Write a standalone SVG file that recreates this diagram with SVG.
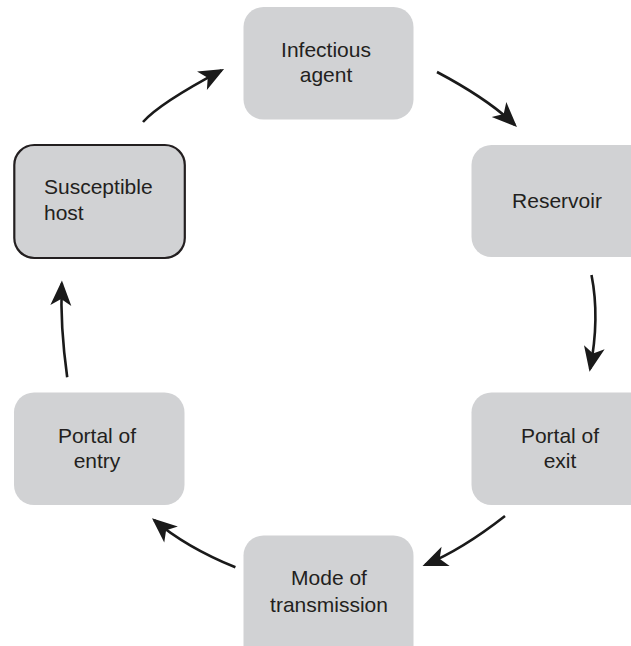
<svg xmlns="http://www.w3.org/2000/svg" width="631" height="646" viewBox="0 0 631 646">
  <style>
    .box { fill: #d1d2d4; }
    .host { fill: #d1d2d4; stroke: #231f20; stroke-width: 2.2; }
    .lbl { font-family: "Liberation Sans", Arial, sans-serif; font-size: 21px; fill: #231f20; }
    .mid { text-anchor: middle; }
    .conn { fill: none; stroke: #1a1a1a; stroke-width: 2.6; }
  </style>
  <defs>
    <marker id="ah" markerUnits="userSpaceOnUse" markerWidth="40" markerHeight="40" viewBox="-30 -15 40 30" refX="0" refY="0" orient="auto" overflow="visible">
      <path d="M3,0 L-22,-10.5 L-15.5,0 L-22,10.5 Z" fill="#1a1a1a"/>
    </marker>
  </defs>
  <rect width="631" height="646" fill="#ffffff"/>

  <g id="infectious-agent">
    <rect class="box" x="243.5" y="7" width="170" height="112.5" rx="20"/>
    <text class="lbl mid" x="326" y="57">Infectious</text>
    <text class="lbl mid" x="326" y="82">agent</text>
  </g>
  <g id="reservoir">
    <rect class="box" x="471.5" y="145" width="180" height="112" rx="20"/>
    <text class="lbl mid" x="557" y="208">Reservoir</text>
  </g>
  <g id="portal-of-exit">
    <rect class="box" x="471.5" y="392.5" width="180" height="112.5" rx="20"/>
    <text class="lbl mid" x="560" y="443">Portal of</text>
    <text class="lbl mid" x="560" y="468">exit</text>
  </g>
  <g id="mode-of-transmission">
    <rect class="box" x="243.5" y="535.5" width="170" height="130" rx="20"/>
    <text class="lbl mid" x="329" y="585">Mode of</text>
    <text class="lbl mid" x="329" y="611.5">transmission</text>
  </g>
  <g id="portal-of-entry">
    <rect class="box" x="14" y="392.5" width="170.5" height="112.5" rx="20"/>
    <text class="lbl mid" x="97" y="443">Portal of</text>
    <text class="lbl mid" x="97" y="468">entry</text>
  </g>
  <g id="susceptible-host">
    <rect class="host" x="14.3" y="145" width="170.5" height="113" rx="20"/>
    <text class="lbl" x="44" y="194">Susceptible</text>
    <text class="lbl" x="44" y="220">host</text>
  </g>

  <g id="connectors">
    <path class="conn" d="M143,122 Q160,103 221.4,70.4" marker-end="url(#ah)"/>
    <path class="conn" d="M437,72 Q488.3,99.2 514.8,124.9" marker-end="url(#ah)"/>
    <path class="conn" d="M591.5,275 Q600,318 590.1,368.8" marker-end="url(#ah)"/>
    <path class="conn" d="M505,516 Q462.5,549.3 425.3,564.8" marker-end="url(#ah)"/>
    <path class="conn" d="M235.4,567.3 Q185.9,547.1 154.3,520.2" marker-end="url(#ah)"/>
    <path class="conn" d="M67.2,377.3 Q60,325 61.8,283.5" marker-end="url(#ah)"/>
  </g>
</svg>
